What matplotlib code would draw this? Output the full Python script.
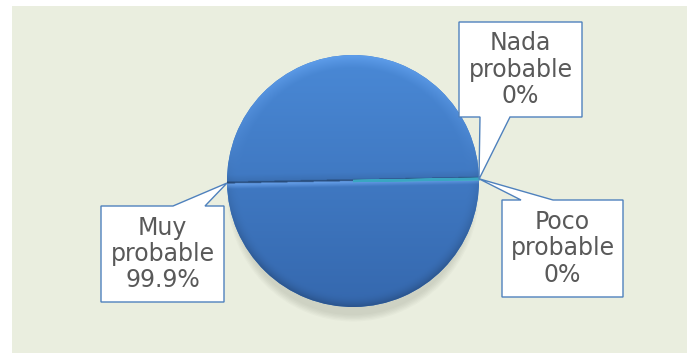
import numpy as np
import matplotlib.pyplot as plt
from matplotlib.patches import Polygon, Rectangle, Ellipse

# datos
categories = ['Muy\nprobable', 'Nada\nprobable', 'Poco\nprobable']
values = [99.9, 0.05, 0.05]
pct_labels = ['99.9%', '0%', '0%']
colors = ['#3f7cc9', '#4bacc6', '#3aa6c2']

W, H = 693, 356
fig = plt.figure(figsize=(W / 100, H / 100), dpi=100)
fig.patch.set_facecolor('white')
ax = fig.add_axes([0, 0, 1, 1])

cx, cy, R = 353, 181, 126   # centro y radio del pastel en pixeles


def px(x, y):
    # pixeles de la imagen (desde arriba) -> coordenadas del eje
    return ((x - cx) / R, (cy - y) / R)


# fondo
x0, y0 = px(12, 6)
x1, y1 = px(687, 353)
ax.add_patch(Rectangle((x0, y1), x1 - x0, y0 - y1, fc='#eaeedf', ec='none', zorder=0))

# sombra (solo abajo)
for i in range(6):
    ax.add_patch(Ellipse((0, -0.09), 1.9 + 0.02 * i, 1.95 + 0.02 * i, fc='#8a8f80',
                         ec='none', alpha=0.05, zorder=1))

start = 1.1
wedges, _ = ax.pie(values, colors=colors, startangle=start, counterclock=True,
                   radius=1, center=(0, 0),
                   wedgeprops=dict(linewidth=0))
for w in wedges:
    w.set_zorder(2)
for w in wedges[1:]:
    w.set_zorder(5)
    w.set_edgecolor(w.get_facecolor())
    w.set_linewidth(1.6)

# relleno degradado tipo bisel
n = 500
g = np.linspace(-1, 1, n)
xx, yy = np.meshgrid(g, g[::-1])
r = np.sqrt(xx ** 2 + yy ** 2)
a = np.deg2rad(start)
v = -np.sin(a) * xx + np.cos(a) * yy
top = np.array([0x4a, 0x89, 0xd6]) / 255
bot = np.array([0x35, 0x68, 0xae]) / 255
t = ((1 - yy) / 2)[..., None]
img = top * (1 - t) + bot * t
rim = np.clip((r - 0.9) / 0.1, 0, 1)[..., None]
img = img * (1 - 0.25 * rim ** 2 * np.clip(0.3 - yy, 0, 1)[..., None] / 1.3)
img = img + 0.08 * rim * np.clip(yy, 0, 1)[..., None]
# division central
low = np.clip(1 + v / 0.045, 0, 1) * (v < 0)
img = img + 0.16 * low[..., None]
img = img * (1 - 0.30 * ((v >= 0) & (v < 0.014))[..., None])
img = img * (1 - 0.10 * np.clip(1 - v / 0.07, 0, 1) * (v >= 0))[..., None]
img = np.clip(img, 0, 1)
im = ax.imshow(img, extent=(-1, 1, -1, 1), zorder=3, interpolation='bilinear')
im.set_clip_path(wedges[0])

ax.set_xlim(-cx / R, (W - cx) / R)
ax.set_ylim(-(H - cy) / R, cy / R)
ax.set_aspect('equal')
ax.axis('off')

# etiquetas con globo
boxes = [(101, 206, 224, 302), (459, 22, 582, 117), (502, 200, 623, 297)]
bases = [(173, 205, 'top'), (480, 510, 'bottom'), (521, 553, 'top')]

for i, w in enumerate(wedges):
    mid = np.deg2rad((w.theta1 + w.theta2) / 2)
    tip = (np.cos(mid), np.sin(mid))
    bl, bt, br, bb = boxes[i]
    b0, b1, side = bases[i]
    if side == 'top':
        pts = [px(bl, bt), px(b0, bt), tip, px(b1, bt), px(br, bt),
               px(br, bb), px(bl, bb)]
    else:
        pts = [px(bl, bt), px(br, bt), px(br, bb), px(b1, bb), tip,
               px(b0, bb), px(bl, bb)]
    ax.add_patch(Polygon(pts, closed=True, fc='white', ec='#4f81bd', lw=1.0, zorder=6))
    tx, ty = px((bl + br) / 2, (bt + bb) / 2)
    ax.text(tx, ty, categories[i] + '\n' + pct_labels[i], ha='center', va='center',
            fontsize=17, color='#595959', linespacing=1.12, zorder=7,
            family='DejaVu Sans')

fig.savefig('out.png', dpi=100)
